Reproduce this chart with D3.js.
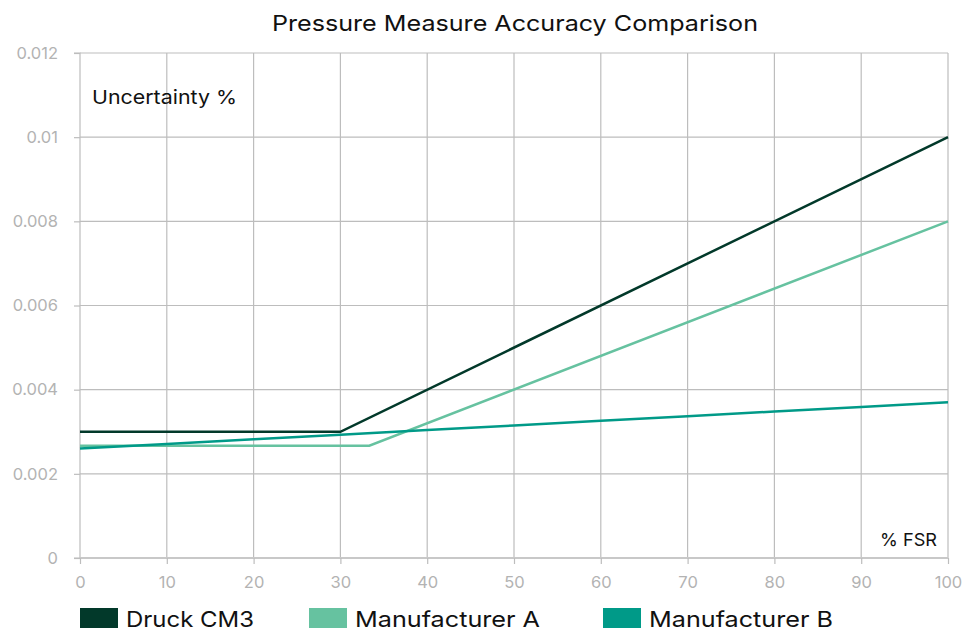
<!DOCTYPE html>
<html><head><meta charset="utf-8">
<script src="https://cdn.jsdelivr.net/npm/d3@7"></script>
<style>body{margin:0;background:#fff;}svg{display:block;font-family:Inter,"Noto Sans",sans-serif;}</style>
</head><body><svg id="c" width="965" height="631"></svg>
<script>
const xTicks = [0,10,20,30,40,50,60,70,80,90,100];
const yTicks = [0,0.002,0.004,0.006,0.008,0.01,0.012];
const seriesNames = ["Druck CM3","Manufacturer A","Manufacturer B"];
const seriesColors = ["#02392a","#66c2a0","#009a88"];
const druckX = [0,30,100];
const druckY = [0.003,0.003,0.01];
const manAX = [0,33.33,100];
const manAY = [0.00267,0.00267,0.008];
const manBX = [0,10,20,30,40,50,60,70,80,90,100];
const manBY = [0.0026,0.00271,0.00282,0.00293,0.00304,0.00315,0.00326,0.00337,0.00348,0.00359,0.0037];

const svg = d3.select("#c");
const L=80, R=948, T=53, B=558;
const x = d3.scaleLinear().domain([0,100]).range([L,R]);
const y = d3.scaleLinear().domain([0,0.012]).range([B,T]);

// grid
svg.append("g").selectAll("line").data(xTicks.slice(1)).join("line")
 .attr("x1",d=>x(d)).attr("x2",d=>x(d)).attr("y1",T).attr("y2",B)
 .attr("stroke","#bdbdbd").attr("stroke-width",1.2);
svg.append("g").selectAll("line").data(yTicks.slice(1)).join("line")
 .attr("x1",L).attr("x2",R).attr("y1",d=>y(d)).attr("y2",d=>y(d))
 .attr("stroke","#bdbdbd").attr("stroke-width",1.2);

// axes
const yAxis = d3.axisLeft(y).tickValues(yTicks).tickSize(6).tickPadding(16).tickFormat(d=>d===0?"0":String(+d.toFixed(3)));
const gy = svg.append("g").attr("transform",`translate(${L},0)`).call(yAxis);
gy.select(".domain").attr("stroke","#bdbdbd").attr("stroke-width",1.2).attr("d",`M-6,${T}H0V${B}H-6`);
gy.selectAll(".tick line").attr("stroke","#bdbdbd").attr("stroke-width",1.2);
gy.selectAll(".tick text").attr("fill","#b3b3b3").attr("font-size",16.5).attr("font-family","Inter,'Noto Sans',sans-serif");

const xAxis = d3.axisBottom(x).tickValues(xTicks).tickSize(6).tickPadding(12);
const gx = svg.append("g").attr("transform",`translate(0,${B})`).call(xAxis);
gx.select(".domain").attr("stroke","#c8c8c8").attr("stroke-width",2).attr("d",`M${L},0H${R}`);
gx.selectAll(".tick line").attr("stroke","#bdbdbd").attr("stroke-width",1.2);
gx.selectAll(".tick text").attr("fill","#b3b3b3").attr("font-size",16.5).attr("font-family","Inter,'Noto Sans',sans-serif");

// lines
const data = [
  druckX.map((v,i)=>[v,druckY[i]]),
  manAX.map((v,i)=>[v,manAY[i]]),
  manBX.map((v,i)=>[v,manBY[i]])
];
const line = d3.line().x(d=>x(d[0])).y(d=>y(d[1]));
[1,2,0].forEach(i=>{
  svg.append("path").attr("d",line(data[i])).attr("fill","none")
   .attr("stroke",seriesColors[i]).attr("stroke-width",2.5);
});

// title & labels
svg.append("text").attr("x",515).attr("y",31).attr("text-anchor","middle")
 .attr("font-size",22).attr("fill","#111")
 .attr("textLength",486).attr("lengthAdjust","spacingAndGlyphs")
 .text("Pressure Measure Accuracy Comparison");
svg.append("text").attr("x",92).attr("y",104).attr("font-size",19).attr("fill","#111")
 .attr("textLength",145).attr("lengthAdjust","spacingAndGlyphs").text("Uncertainty %");
svg.append("text").attr("x",880).attr("y",546).attr("font-size",17.5).attr("fill","#111")
 .attr("textLength",57).attr("lengthAdjust","spacingAndGlyphs").text("% FSR");

// legend
const legX=[80,309,603];
const legW=[128,185,184];
const lg = svg.append("g").selectAll("g").data(seriesNames).join("g")
 .attr("transform",(d,i)=>`translate(${legX[i]},608)`);
lg.append("rect").attr("width",38).attr("height",20).attr("fill",(d,i)=>seriesColors[i]);
lg.append("text").attr("x",46).attr("y",19).attr("font-size",22).attr("fill","#111")
 .attr("textLength",(d,i)=>legW[i]).attr("lengthAdjust","spacingAndGlyphs").text(d=>d);
</script></body></html>
